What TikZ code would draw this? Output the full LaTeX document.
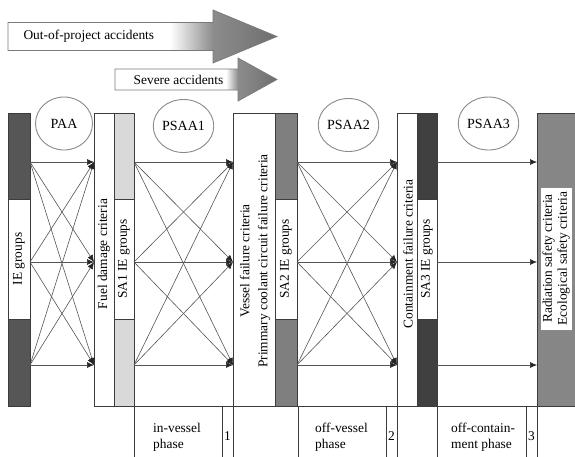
\documentclass[tikz,border=0pt]{standalone}
\usepackage{fontspec}
\setmainfont{Liberation Serif}
\usetikzlibrary{shapes.geometric,arrows.meta}

\definecolor{edgegray}{HTML}{3C3C3C}
\definecolor{linkgray}{HTML}{555555}
\definecolor{tipdark}{HTML}{262626}
\definecolor{ringgray}{HTML}{8A8A8A}
\definecolor{outlinegray}{HTML}{7A7A7A}
\definecolor{iedark}{HTML}{565656}
\definecolor{saone}{HTML}{D9D9D9}
\definecolor{satwo}{HTML}{7F7F7F}
\definecolor{sathree}{HTML}{404040}
\definecolor{radgray}{HTML}{868686}
\definecolor{headgray}{HTML}{8C8C8C}
\definecolor{tipgray}{HTML}{6E6E6E}

\tikzset{
  lbl/.style={font=\fontsize{13.4}{16}\selectfont},
  panel/.style={draw=edgegray, line width=0.8pt, inner sep=0pt, outer sep=0pt, anchor=north west},
  midbox/.style={draw=edgegray, line width=0.8pt, inner sep=0pt, fill=white, rotate=90, lbl},
  ring/.style={ellipse, draw=ringgray, line width=0.9pt, minimum width=57pt, minimum height=53pt,
               inner sep=0pt, font=\fontsize{14}{16}\selectfont},
  link/.style={draw=linkgray, line width=0.6pt,
               -{Latex[length=7pt,width=6pt,color=tipdark]}},
  cell/.style={panel, fill=white, minimum height=60pt},
  banner/.style={draw=outlinegray, line width=0.7pt},
}

\begin{document}
\begin{tikzpicture}[x=1pt,y=-1pt]
\useasboundingbox (0,0) rectangle (575,456);
\clip (0,0) rectangle (575,456);
\fill[white] (0,0) rectangle (575,456);

% ---- banner arrows ----
\begin{scope}
  \clip (8,22.5) -- (213,22.5) -- (213,10) -- (277,36.5) -- (213,63) -- (213,50.5) -- (8,50.5) -- cycle;
  \fill[white] (8,0) rectangle (280,70);
  \shade[left color=white, right color=headgray] (170,0) rectangle (213,70);
  \shade[left color=headgray, right color=tipgray] (213,0) rectangle (278,70);
\end{scope}
\draw[banner] (8,22.5) -- (213,22.5) -- (213,10) -- (277,36.5) -- (213,63) -- (213,50.5) -- (8,50.5) -- cycle;
\node[lbl, anchor=west] (oop) at (20,36.5) {Out-of-project accidents};

\begin{scope}
  \clip (115,69) -- (238,69) -- (238,58) -- (277,79.5) -- (238,101) -- (238,90) -- (115,90) -- cycle;
  \fill[white] (115,50) rectangle (280,110);
  \shade[left color=white, right color=headgray] (226,50) rectangle (238,110);
  \shade[left color=headgray, right color=tipgray] (238,50) rectangle (278,110);
\end{scope}
\draw[banner] (115,69) -- (238,69) -- (238,58) -- (277,79.5) -- (238,101) -- (238,90) -- (115,90) -- cycle;
\node[lbl] (sev) at (178.5,79.5) {Severe accidents};

% ---- analysis stages ----
\node[ring] (paa)   at (64,123.5)  {PAA};
\node[ring] (psaa1) at (183.5,126) {PSAA1};
\node[ring] (psaa2) at (348.5,125) {PSAA2};
\node[ring] (psaa3) at (488.5,123.5) {PSAA3};

% ---- columns ----
\node[panel, fill=iedark, minimum width=22pt, minimum height=293pt] (ie) at (8,113) {};
\node[midbox, minimum width=120pt, minimum height=22pt] (ieT) at (19,259) {IE groups};

\node[panel, fill=white, minimum width=20pt, minimum height=293pt] (fuel) at (94,113) {};
\node[lbl, rotate=90] (fuelT) at (104,254) {Fuel damage criteria};

\node[panel, fill=saone, minimum width=20pt, minimum height=293pt] (sa1) at (114,113) {};
\node[midbox, minimum width=120pt, minimum height=20pt] (sa1T) at (124,259) {SA1 IE groups};

\node[panel, fill=white, minimum width=42pt, minimum height=293pt] (vessel) at (233,113) {};
\node[lbl, rotate=90, align=center, font=\fontsize{13.4}{18}\selectfont] (vesselT) at (255,261)
  {Vessel failure criteria\\Primmary coolant circuit failure criteria};

\node[panel, fill=satwo, minimum width=22pt, minimum height=293pt] (sa2) at (275,113) {};
\node[midbox, minimum width=120pt, minimum height=22pt] (sa2T) at (286,259) {SA2 IE groups};

\node[panel, fill=white, minimum width=20pt, minimum height=293pt] (cont) at (397,113) {};
\node[lbl, rotate=90] (contT) at (408,254) {Containment failure criteria};

\node[panel, fill=sathree, minimum width=20pt, minimum height=293pt] (sa3) at (417,113) {};
\node[midbox, minimum width=120pt, minimum height=20pt] (sa3T) at (427,259) {SA3 IE groups};

\node[panel, fill=radgray, minimum width=42pt, minimum height=293pt] (rad) at (537,113) {};
\node[draw=ringgray, line width=0.6pt, fill=white, rotate=90, align=center, inner sep=0pt,
      minimum width=143pt, minimum height=32pt, font=\fontsize{13.4}{15}\selectfont] (radT) at (556,258.5)
  {Radiation safety criteria\\Ecological safety criteria};

% ---- transitions between columns ----
\coordinate (r1) at (0,162);
\coordinate (r2) at (0,262);
\coordinate (r3) at (0,365);
\foreach \i in {1,2,3}{
  \foreach \j in {1,2,3}{
    \draw[link] (ie.east |- r\i) -- (fuel.west |- r\j);
    \draw[link] (sa1.east |- r\i) -- (vessel.west |- r\j);
    \draw[link] (sa2.east |- r\i) -- (cont.west |- r\j);
  }
  \draw[link] (sa3.east |- r\i) -- (rad.west |- r\i);
}

% ---- phase table ----
\node[cell, minimum width=88pt] (ph1) at (134,406.5) {};
\node[cell, minimum width=11pt] (n1) at (222,406.5) {};
\node[cell, minimum width=88pt] (ph2) at (298,406.5) {};
\node[cell, minimum width=11pt] (n2) at (386,406.5) {};
\node[cell, minimum width=89pt] (ph3) at (437,406.5) {};
\node[cell, minimum width=11pt] (n3) at (526,406.5) {};

\node[lbl, anchor=north west, align=left, inner sep=0pt] (ph1T) at (153,422.5) {in-vessel\\phase};
\node[lbl, anchor=north west, align=left, inner sep=0pt] (ph2T) at (315,422.5) {off-vessel\\phase};
\node[lbl, anchor=north west, align=left, inner sep=0pt] (ph3T) at (451,422.5) {off-contain-\\ment phase};
\node[lbl, inner sep=0pt] (n1T) at (227.5,436) {1};
\node[lbl, inner sep=0pt] (n2T) at (391.5,436) {2};
\node[lbl, inner sep=0pt] (n3T) at (531.5,436) {3};
\end{tikzpicture}
\end{document}
